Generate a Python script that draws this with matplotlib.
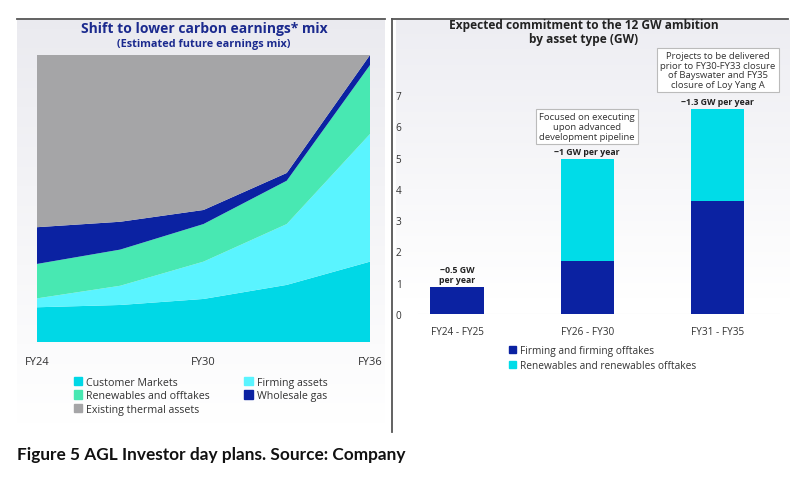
import numpy as np
import matplotlib.pyplot as plt
from matplotlib.patches import Patch

# ---- data: left chart (share of earnings, %) ----
years = [24, 27, 30, 33, 36]
customer_markets = [12.1, 12.9, 15.0, 19.9, 28.0]
firming_assets = [3.1, 6.7, 13.0, 21.2, 44.5]
renewables_offtakes = [12.0, 12.6, 13.1, 15.1, 24.0]
wholesale_gas = [12.8, 9.7, 4.9, 2.7, 3.5]
existing_thermal = [60.0, 58.1, 54.0, 41.1, 0.0]
area_labels = ['Customer Markets', 'Firming assets', 'Renewables and offtakes',
               'Wholesale gas', 'Existing thermal assets']
area_colors = ['#00D8E6', '#5AF4FF', '#48E8B2', '#0B22A2', '#A5A5A7']

# ---- data: right chart (GW) ----
periods = ['FY24 - FY25', 'FY26 - FY30', 'FY31 - FY35']
firming_gw = [0.85, 1.7, 3.6]
renewables_gw = [0.0, 3.25, 2.95]
rate_labels = ['~0.5 GW\nper year', '~1 GW per year', '~1.3 GW per year']

W, H = 800, 489
fig = plt.figure(figsize=(8, 4.89), dpi=100)
plt.rcParams['font.family'] = ['Open Sans', 'DejaVu Sans']


def box(x0, y0, x1, y1):
    return [x0 / W, 1 - y1 / H, (x1 - x0) / W, (y1 - y0) / H]


# background gradients
def gradient_bg(rect, top, bottom, fade):
    bg = fig.add_axes(box(*rect), zorder=-5)
    t = np.linspace(0, 1, 200)
    v = np.clip(t / fade, 0, 1)
    c0, c1 = np.array(top), np.array(bottom)
    img = (c0[None, :] * (1 - v[:, None]) + c1[None, :] * v[:, None])[:, None, :]
    bg.imshow(img, aspect='auto', extent=[0, 1, 1, 0])
    bg.axis('off')


gradient_bg((17, 21, 385, 425), (0.92, 0.92, 0.94), (1, 1, 1), 1.0)
gradient_bg((396, 21, 790, 300), (0.93, 0.93, 0.95), (1, 1, 1), 1.0)

# frame lines
frame = fig.add_axes([0, 0, 1, 1], zorder=-4)
frame.set_xlim(0, W)
frame.set_ylim(H, 0)
frame.axis('off')
frame.plot([17, 385], [20, 20], color='#555555', lw=1.3)
frame.plot([392, 788], [20, 20], color='#555555', lw=1.3)
frame.plot([392, 392], [20, 433], color='#555555', lw=1.3)

# ---- left: stacked area ----
ax1 = fig.add_axes(box(37, 56, 370, 343))
ax1.stackplot(years, customer_markets, firming_assets, renewables_offtakes,
              wholesale_gas, existing_thermal, colors=area_colors, lw=0)
ax1.set_xlim(24, 36)
ax1.set_ylim(0, 100)
ax1.set_xticks([24, 30, 36])
ax1.set_xticklabels(['FY24', 'FY30', 'FY36'], fontsize=8, color='#333333')
ax1.tick_params(length=0, pad=10)
ax1.set_yticks([])
for s in ax1.spines.values():
    s.set_visible(False)
ax1.patch.set_alpha(0)

fig.text(204 / W, 1 - 29 / H, 'Shift to lower carbon earnings* mix', ha='center',
         va='center', fontsize=10, fontweight='bold', color='#1B2A8E')
fig.text(204 / W, 1 - 45 / H, '(Estimated future earnings mix)', ha='center',
         va='center', fontsize=7.8, fontweight='bold', color='#1B2A8E')

order = [0, 2, 4, 1, 3]
handles = [Patch(color=area_colors[i], label=area_labels[i]) for i in order]
fig.legend(handles=handles, ncol=2, loc='upper left',
           bbox_to_anchor=(64 / W, 1 - 368 / H), frameon=False, fontsize=7.7,
           handlelength=0.8, handleheight=0.8, handletextpad=0.4,
           columnspacing=3.2, labelspacing=0.25, labelcolor='#333333')

# ---- right: stacked bars ----
ax2 = fig.add_axes(box(418, 96, 780, 315))
x = np.arange(len(periods))
ax2.bar(x, firming_gw, width=0.41, color='#0B22A2')
ax2.bar(x, renewables_gw, width=0.41, bottom=firming_gw, color='#00DCE8')
ax2.set_xlim(-0.3, 2.48)
ax2.set_ylim(0, 7)
ax2.set_yticks(range(0, 8))
ax2.set_xticks(x)
ax2.set_xticklabels(periods, fontsize=7.2, color='#333333')
ax2.tick_params(axis='y', labelsize=7.2, labelcolor='#333333', length=0, pad=12)
ax2.tick_params(axis='x', length=0, pad=9)
for s in ax2.spines.values():
    s.set_visible(False)
ax2.axhline(0, color='#E4E4E8', lw=0.8, zorder=0)
ax2.patch.set_alpha(0)

totals = [f + r for f, r in zip(firming_gw, renewables_gw)]
for xi, tot, lab in zip(x, totals, rate_labels):
    ax2.annotate(lab, (xi, tot), xytext=(0, 2.5), textcoords='offset points',
                 ha='center', va='bottom', fontsize=6.3, fontweight='bold',
                 color='#222222', linespacing=1.2)

fig.text(587 / W, 1 - 127.5 / H,
         'Focused on executing\nupon advanced\ndevelopment pipeline',
         ha='center', va='center', fontsize=6.8, color='#333333', linespacing=1.1,
         bbox=dict(boxstyle='square,pad=0.35', fc='white', ec='#BBBBBB', lw=0.8))
fig.text(718 / W, 1 - 71 / H,
         'Projects to be delivered\nprior to FY30-FY33 closure\nof Bayswater and FY35\nclosure of Loy Yang A',
         ha='center', va='center', fontsize=6.8, color='#333333', linespacing=1.1,
         bbox=dict(boxstyle='square,pad=0.35', fc='white', ec='#BBBBBB', lw=0.8))

fig.text(584 / W, 1 - 32.5 / H, 'Expected commitment to the 12 GW ambition\nby asset type (GW)',
         ha='center', va='center', fontsize=8.6, fontweight='bold', color='#222222',
         linespacing=1.1)

bar_handles = [Patch(color='#0B22A2', label='Firming and firming offtakes'),
               Patch(color='#00DCE8', label='Renewables and renewables offtakes')]
fig.legend(handles=bar_handles, loc='upper left', bbox_to_anchor=(500 / W, 1 - 337 / H),
           frameon=False, fontsize=7.3, handlelength=0.7, handleheight=0.7,
           handletextpad=0.4, labelspacing=0.4, labelcolor='#333333')

# caption
fig.text(17 / W, 1 - 455 / H, 'Figure 5 AGL Investor day plans. Source: Company',
         ha='left', va='center', fontsize=12.4, fontweight='bold', color='#111111',
         family=['Lato', 'DejaVu Sans'])

fig.savefig('out.png', dpi=100, facecolor='white')
